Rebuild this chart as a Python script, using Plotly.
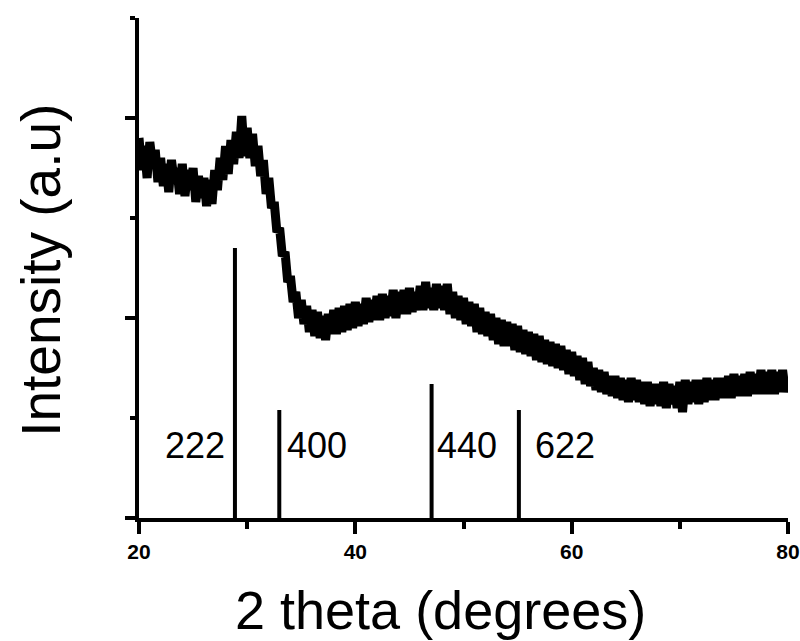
import plotly.graph_objects as go

# ---- data -------------------------------------------------------------
two_theta_start = 20.0
two_theta_step = 0.25
intensity = [
    1.90, 1.74, 1.86, 1.70, 1.88, 1.77, 1.84, 1.68,   # 20.00-21.75
    1.80, 1.66, 1.77, 1.63, 1.79, 1.69, 1.75, 1.62,   # 22.00-23.75
    1.77, 1.61, 1.74, 1.64, 1.75, 1.58, 1.71, 1.60,   # 24.00-25.75
    1.70, 1.56, 1.69, 1.57, 1.74, 1.64, 1.80, 1.69,   # 26.00-27.75
    1.86, 1.72, 1.89, 1.77, 1.93, 1.80, 2.01, 1.81,   # 28.00-29.75
    1.95, 1.80, 1.92, 1.76, 1.86, 1.71, 1.79, 1.62,   # 30.00-31.75
    1.70, 1.55, 1.58, 1.43, 1.45, 1.31, 1.33, 1.18,   # 32.00-33.75
    1.21, 1.08, 1.13, 1.00, 1.09, 0.97, 1.06, 0.93,   # 34.00-35.75
    1.04, 0.91, 1.03, 0.90, 1.01, 0.89, 1.02, 0.92,   # 36.00-37.75
    1.04, 0.92, 1.05, 0.93, 1.06, 0.94, 1.07, 0.95,   # 38.00-39.75
    1.08, 0.96, 1.07, 0.97, 1.10, 0.98, 1.09, 0.99,   # 40.00-41.75
    1.11, 0.99, 1.12, 1.00, 1.11, 1.01, 1.14, 1.00,   # 42.00-43.75
    1.13, 1.02, 1.14, 1.02, 1.15, 1.03, 1.13, 1.04,   # 44.00-45.75
    1.16, 1.04, 1.18, 1.05, 1.15, 1.04, 1.17, 1.05,   # 46.00-47.75
    1.16, 1.04, 1.17, 1.02, 1.13, 1.00, 1.11, 0.99,   # 48.00-49.75
    1.10, 0.97, 1.08, 0.96, 1.07, 0.93, 1.05, 0.92,   # 50.00-51.75
    1.03, 0.91, 1.02, 0.89, 1.00, 0.87, 0.99, 0.86,   # 52.00-53.75
    0.98, 0.86, 0.97, 0.84, 0.96, 0.83, 0.94, 0.82,   # 54.00-55.75
    0.93, 0.81, 0.92, 0.79, 0.91, 0.78, 0.89, 0.77,   # 56.00-57.75
    0.88, 0.76, 0.87, 0.75, 0.86, 0.74, 0.84, 0.72,   # 58.00-59.75
    0.83, 0.71, 0.81, 0.69, 0.80, 0.67, 0.78, 0.66,   # 60.00-61.75
    0.75, 0.64, 0.74, 0.63, 0.73, 0.62, 0.71, 0.61,   # 62.00-63.75
    0.71, 0.60, 0.70, 0.59, 0.69, 0.58, 0.70, 0.59,   # 64.00-65.75
    0.69, 0.58, 0.68, 0.57, 0.68, 0.56, 0.67, 0.57,   # 66.00-67.75
    0.67, 0.56, 0.68, 0.55, 0.67, 0.57, 0.66, 0.55,   # 68.00-69.75
    0.68, 0.53, 0.69, 0.57, 0.68, 0.58, 0.69, 0.57,   # 70.00-71.75
    0.69, 0.58, 0.70, 0.59, 0.69, 0.59, 0.70, 0.60,   # 72.00-73.75
    0.70, 0.60, 0.71, 0.60, 0.72, 0.61, 0.71, 0.61,   # 74.00-75.75
    0.72, 0.61, 0.73, 0.62, 0.72, 0.62, 0.74, 0.62,   # 76.00-77.75
    0.73, 0.62, 0.74, 0.62, 0.73, 0.63, 0.74, 0.63,   # 78.00-79.75
    0.70,                                             # 80.00
]
two_theta = [two_theta_start + i * two_theta_step for i in range(len(intensity))]

peak_labels = ["222", "400", "440", "622"]
peak_positions = [28.87, 32.97, 47.05, 55.12]
peak_heights = [1.35, 0.54, 0.67, 0.54]
label_x = [28.13, 33.49, 47.36, 56.41]
label_y = [0.365, 0.365, 0.365, 0.365]
label_anchor = ["right", "left", "left", "left"]

x_tick_vals = [20, 40, 60, 80]
x_tick_text = ["20", "40", "60", "80"]
y_tick_vals = [0, 1, 2]

FONT = "Liberation Sans, Arial, Helvetica, sans-serif"

# ---- figure -----------------------------------------------------------
fig = go.Figure()

fig.add_trace(go.Scatter(
    x=two_theta, y=intensity, mode="lines",
    line=dict(color="black", width=9), hoverinfo="skip", showlegend=False,
))

px, py = [], []
for p, h in zip(peak_positions, peak_heights):
    px += [p, p, None]
    py += [0, h, None]
fig.add_trace(go.Scatter(
    x=px, y=py, mode="lines",
    line=dict(color="black", width=4), hoverinfo="skip", showlegend=False,
))

for t, lx, ly, anc in zip(peak_labels, label_x, label_y, label_anchor):
    fig.add_annotation(
        x=lx, y=ly, xref="x", yref="y", text=t, showarrow=False,
        xanchor=anc, yanchor="middle",
        font=dict(family=FONT, size=36, color="black"),
    )

# axis titles placed as paper annotations
fig.add_annotation(
    x=0.4638, y=-0.184, xref="paper", yref="paper", text="2 theta (degrees)",
    showarrow=False, xanchor="center", yanchor="middle",
    font=dict(family=FONT, size=54, color="black"),
)
fig.add_annotation(
    x=-0.152, y=0.495, xref="paper", yref="paper", text="Intensity (a.u)",
    showarrow=False, xanchor="center", yanchor="middle", textangle=-90,
    font=dict(family=FONT, size=55, color="black"),
)

fig.update_layout(
    width=800, height=641,
    margin=dict(l=139, r=12, t=18, b=123),
    paper_bgcolor="white", plot_bgcolor="white",
    font=dict(family=FONT, color="black"),
    xaxis=dict(
        range=[20, 80], showgrid=False, zeroline=False, automargin=False,
        showline=True, linecolor="black", linewidth=4,
        ticks="outside", ticklen=12, tickwidth=4, tickcolor="black",
        tickvals=x_tick_vals, ticktext=x_tick_text,
        tickfont=dict(family=FONT, size=21, color="black", weight="bold"),
        minor=dict(dtick=10, tick0=0, ticks="outside", ticklen=7, tickwidth=4,
                   tickcolor="black", showgrid=False),
    ),
    yaxis=dict(
        range=[0, 2.5], showgrid=False, zeroline=False, automargin=False,
        showline=True, linecolor="black", linewidth=4,
        ticks="outside", ticklen=10, tickwidth=4, tickcolor="black",
        tickvals=y_tick_vals, showticklabels=False,
        minor=dict(dtick=0.5, tick0=0, ticks="outside", ticklen=5, tickwidth=4,
                   tickcolor="black", showgrid=False),
    ),
)

fig.write_html("out.html")
